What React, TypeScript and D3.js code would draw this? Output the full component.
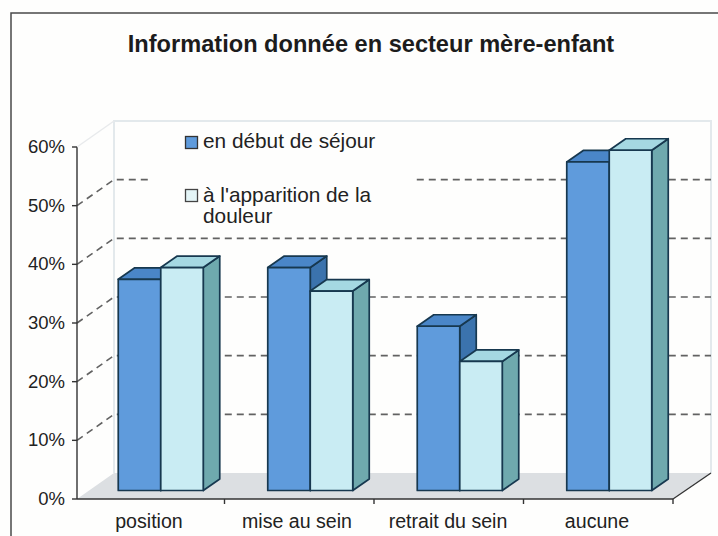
import React from "react";
import * as d3 from "d3";

const categories = ["position", "mise au sein", "retrait du sein", "aucune"];
const debutSejour = [36, 38, 28, 56];
const apparitionDouleur = [38, 34, 22, 58];
const yTicks = [0, 10, 20, 30, 40, 50, 60];
const legendLabels = ["en début de séjour", "à l'apparition de la", "douleur"];
const title = "Information donnée en secteur mère-enfant";
const categoryLabelCentres = [149, 297, 448, 597];

const W = 718, H = 536;
const font = "Liberation Sans, Arial, sans-serif";
const y = d3.scaleLinear().domain([0, 60]).range([499, 147]);
const axisX = 77;
const x0 = 75;
const x1 = 673;
const backX = 114;
const dy = -26;
const band = d3.scaleBand<string>().domain(categories).range([x0, x1]);
const barW = 42.5;
const bdx = 16.5, bdy = -11.5;
const zeroShift = -8.5;

const palettes = [
  { front: "#5f9bdc", top: "#4a86c8", side: "#3b73ad" },
  { front: "#c9ecf3", top: "#a5d8e2", side: "#6fa9ae" },
];

function Bar({ xL, v, p }: { xL: number; v: number; p: (typeof palettes)[0] }) {
  const yT = y(v) + zeroShift;
  const yB = y(0) + zeroShift;
  return (
    <g stroke="#17384f" strokeWidth={1.7} strokeLinejoin="round">
      <polygon fill={p.side} points={`${xL + barW},${yT} ${xL + barW + bdx},${yT + bdy} ${xL + barW + bdx},${yB + bdy} ${xL + barW},${yB}`} />
      <polygon fill={p.top} points={`${xL},${yT} ${xL + bdx},${yT + bdy} ${xL + barW + bdx},${yT + bdy} ${xL + barW},${yT}`} />
      <rect x={xL} y={yT} width={barW} height={yB - yT} fill={p.front} />
    </g>
  );
}

export default function App() {
  const gridTicks = yTicks.slice(1, 6);
  const backR = x1 + 38;
  return (
    <svg width={W} height={H} style={{ position: "absolute", left: 0, top: 0, background: "#fefefd" }} fontFamily={font}>
      <path d={`M11,${H} V13 H718`} fill="none" stroke="#4a4a4a" strokeWidth={1.5} />
      <text x={371} y={52} textAnchor="middle" fontSize={23.6} fontWeight={700} fill="#1c1c1c">{title}</text>

      {/* back wall and floor */}
      <polyline points={`${backX},${y(0) + dy} ${backX},${y(60) + dy} ${backR},${y(60) + dy} ${backR},${y(0) + dy}`} fill="none" stroke="#e3e9ec" strokeWidth={2} />
      <polygon points={`${axisX},${y(0)} ${backX},${y(0) + dy} ${backR},${y(0) + dy} ${x1},${y(0)}`} fill="#dcdfe2" />
      <line x1={x1} y1={y(0)} x2={backR} y2={y(0) + dy} stroke="#333" strokeWidth={1.3} />

      {/* grid */}
      <g stroke="#626262" strokeWidth={1.6} strokeDasharray="7 5" fill="none">
        {gridTicks.map((t) => (
          <polyline key={t} points={`${axisX},${y(t)} ${backX},${y(t) + dy} ${backR},${y(t) + dy}`} />
        ))}
      </g>
      {/* the legend interrupts the top gridline */}
      <rect x={148} y={165} width={264} height={28} fill="#fefefd" />

      {/* axes */}
      <g stroke="#333" strokeWidth={1.4}>
        <line x1={axisX} y1={y(60)} x2={axisX} y2={y(0)} />
        <line x1={axisX} y1={y(0)} x2={x1} y2={y(0)} />
        <line x1={axisX} y1={y(60)} x2={backX} y2={y(60) + dy} stroke="#e8eaec" />
        {yTicks.map((t) => (
          <line key={t} x1={axisX - 5} y1={y(t)} x2={axisX} y2={y(t)} />
        ))}
        {[...categories.slice(1).map((c) => band(c) as number), x1].map((p, i) => (
          <line key={i} x1={p} y1={y(0)} x2={p} y2={y(0) + 5} />
        ))}
      </g>
      <g fontSize={18.5} fill="#222" textAnchor="end">
        {yTicks.map((t) => (
          <text key={t} x={65} y={y(t) + 6}>{t}%</text>
        ))}
      </g>
      <g fontSize={19.6} fill="#222" textAnchor="middle">
        {categories.map((c, i) => (
          <text key={c} x={categoryLabelCentres[i]} y={528}>{c}</text>
        ))}
      </g>

      {/* bars */}
      {categories.map((c, i) => {
        const cx = (band(c) as number) + band.bandwidth() / 2;
        const shift = 11;
        return (
          <g key={c}>
            <Bar xL={cx - barW + shift} v={debutSejour[i]} p={palettes[0]} />
            <Bar xL={cx + shift} v={apparitionDouleur[i]} p={palettes[1]} />
          </g>
        );
      })}

      {/* legend */}
      <rect x={185.5} y={136.5} width={12} height={12} fill={palettes[0].front} stroke="#333" strokeWidth={1.3} />
      <rect x={185.5} y={189.5} width={12} height={12} fill="#e4f5f7" stroke="#444" strokeWidth={1.3} />
      <g fontSize={20.8} fill="#222">
        <text x={203} y={148}>{legendLabels[0]}</text>
        <text x={203} y={202}>{legendLabels[1]}</text>
        <text x={203} y={223}>{legendLabels[2]}</text>
      </g>
    </svg>
  );
}
